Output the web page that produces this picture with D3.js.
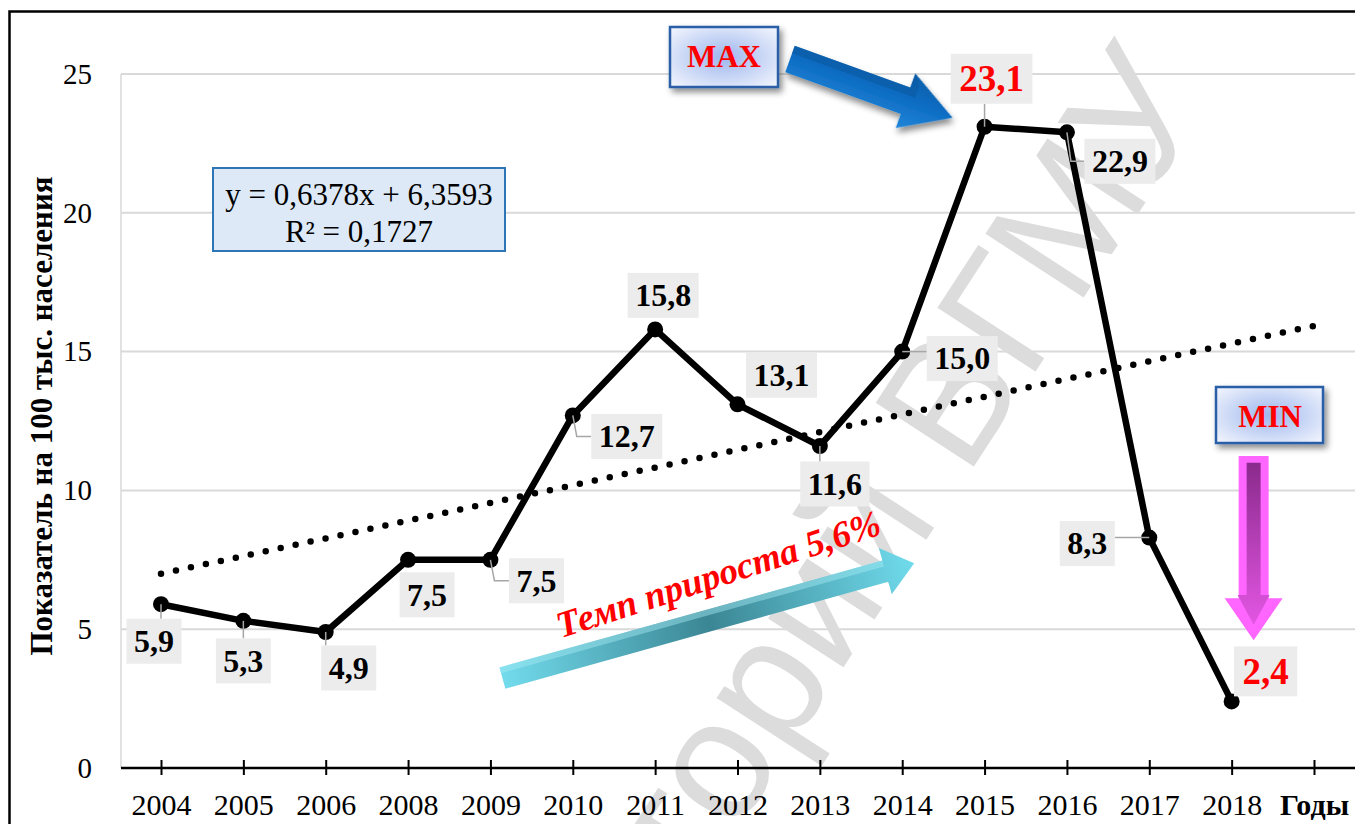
<!DOCTYPE html>
<html><head><meta charset="utf-8">
<script src="https://cdn.jsdelivr.net/npm/d3@7"></script>
<style>
html,body{margin:0;padding:0;background:#fff;overflow:hidden;}
svg{display:block;}
</style></head><body>
<svg id="chart" width="1355" height="824"></svg>
<script>
// ---------------- DATA ----------------
const years = ["2004","2005","2006","2008","2009","2010","2011","2012","2013","2014","2015","2016","2017","2018"];
const values = [5.9, 5.3, 4.9, 7.5, 7.5, 12.7, 15.8, 13.1, 11.6, 15.0, 23.1, 22.9, 8.3, 2.4];
const axisEndLabel = "Годы";
const categories = years.concat([axisEndLabel]);
const yTickValues = [0, 5, 10, 15, 20, 25];
const trendSlope = 0.6378;
const trendIntercept = 6.3593;
const trendR2 = 0.1727;
const equationLines = ["y = 0,6378x + 6,3593", "R² = 0,1727"];
const yAxisTitle = "Показатель на 100 тыс. населения";
const growthText = "Темп прироста 5,6%";
const maxText = "MAX";
const minText = "MIN";
const watermarkText = "Репозиторий ВГМУ";

// ---------------- LAYOUT (label placement relative to points) ----------------
const labelLayout = [
  {dx:-7, dy:37, leader:"line"},
  {dx:0,  dy:40, leader:"line"},
  {dx:23, dy:36, leader:"line"},
  {dx:19, dy:35, leader:"none"},
  {dx:46, dy:21, leader:"elbow"},
  {dx:54, dy:21, leader:"elbow"},
  {dx:8,  dy:-34, leader:"none"},
  {dx:44, dy:-29, leader:"none"},
  {dx:15, dy:38, leader:"line"},
  {dx:60, dy:7,  leader:"line"},
  {dx:7,  dy:-48, leader:"line"},
  {dx:53, dy:29, leader:"elbow"},
  {dx:-62, dy:6, leader:"line"},
  {dx:34, dy:-30, leader:"none"}
];

const W = 1355, H = 824;
const plotLeft = 121, plotRight = 1356;
const serif = "'Liberation Serif','Times New Roman',serif";
const svg = d3.select("#chart");
const defs = svg.append("defs");

const x = d3.scalePoint().domain(categories).range([161, 1314]);
const y = d3.scaleLinear().domain([0, 25]).range([768, 74]);
const fmt = v => d3.format(".1f")(v).replace(".", ",");

// defs
const shadow = defs.append("filter").attr("id","shadow").attr("x","-20%").attr("y","-20%").attr("width","150%").attr("height","160%");
shadow.append("feDropShadow").attr("dx",3).attr("dy",4).attr("stdDeviation",3).attr("flood-color","#000").attr("flood-opacity",0.45);
const rg = defs.append("radialGradient").attr("id","boxGrad").attr("cx","50%").attr("cy","50%").attr("r","65%");
rg.append("stop").attr("offset","0%").attr("stop-color","#9db6ee");
rg.append("stop").attr("offset","100%").attr("stop-color","#eef2fc");
const bg = defs.append("linearGradient").attr("id","blueArrow").attr("x1",0).attr("y1",0).attr("x2",0).attr("y2",1);
bg.append("stop").attr("offset","0%").attr("stop-color","#0d5ea8");
bg.append("stop").attr("offset","45%").attr("stop-color","#0b6cc2");
bg.append("stop").attr("offset","100%").attr("stop-color","#2386d8");
const cg = defs.append("linearGradient").attr("id","cyanArrow").attr("x1",0).attr("y1",0).attr("x2",1).attr("y2",0);
cg.append("stop").attr("offset","0%").attr("stop-color","#72dbec");
cg.append("stop").attr("offset","50%").attr("stop-color","#3b8694");
cg.append("stop").attr("offset","100%").attr("stop-color","#70dbec");
const pg = defs.append("linearGradient").attr("id","pinkInner").attr("x1",0).attr("y1",0).attr("x2",1).attr("y2",0);
pg.append("stop").attr("offset","0%").attr("stop-color","#8a2a8c");
pg.append("stop").attr("offset","100%").attr("stop-color","#e356e3");
const clip = defs.append("clipPath").attr("id","pageClip");
clip.append("rect").attr("x",0).attr("y",0).attr("width",W).attr("height",H);

// frame
svg.append("path").attr("d", `M9.5,${H} L9.5,11.5 L${W},11.5`).attr("fill","none").attr("stroke","#000").attr("stroke-width",2.5);

// gridlines
svg.append("g").selectAll("line").data(yTickValues.filter(d => d > 0)).join("line")
  .attr("x1", plotLeft).attr("x2", plotRight)
  .attr("y1", d => y(d)).attr("y2", d => y(d))
  .attr("stroke","#d9d9d9").attr("stroke-width",2);
svg.append("line").attr("x1",plotLeft).attr("x2",plotLeft).attr("y1",y(25)).attr("y2",y(0))
  .attr("stroke","#d9d9d9").attr("stroke-width",1.5);

// watermark
svg.append("g").attr("clip-path","url(#pageClip)").append("text").text(watermarkText)
  .attr("transform","translate(1212,100) rotate(-57)")
  .attr("text-anchor","end")
  .attr("font-family","'Liberation Sans',Arial,sans-serif")
  .attr("font-size",170)
  .attr("fill","#dcdcdc");

// y axis
const yAxis = svg.append("g").attr("transform",`translate(${plotLeft},0)`)
  .call(d3.axisLeft(y).tickValues(yTickValues).tickSize(0).tickPadding(29).tickFormat(d3.format("d")));
yAxis.select(".domain").remove();
yAxis.selectAll("text").attr("font-family",serif).attr("font-size",29).attr("fill","#000");

// x axis
const xAxis = svg.append("g").attr("transform",`translate(0,${y(0)})`)
  .call(d3.axisBottom(x).tickSize(7).tickPadding(19));
xAxis.select(".domain").remove();
xAxis.selectAll(".tick line").attr("y1",-8).attr("y2",7).attr("stroke","#000").attr("stroke-width",2);
xAxis.selectAll("text").attr("font-family",serif).attr("font-size",30).attr("fill","#000")
  .attr("font-weight", d => d === axisEndLabel ? "bold" : "normal");
svg.append("line").attr("x1",plotLeft).attr("x2",plotRight).attr("y1",y(0)).attr("y2",y(0))
  .attr("stroke","#000").attr("stroke-width",2.5);

// y title
svg.append("text").text(yAxisTitle)
  .attr("transform","translate(52,416) rotate(-90)")
  .attr("text-anchor","middle")
  .attr("font-family",serif).attr("font-weight","bold").attr("font-size",31).attr("fill","#000");

// trend line
const trendPts = categories.map((c, i) => [x(c), y(trendSlope * (i + 1) + trendIntercept)]);
svg.append("path").attr("d", d3.line()(trendPts))
  .attr("fill","none").attr("stroke","#000").attr("stroke-width",6.5)
  .attr("stroke-linecap","round").attr("stroke-dasharray","0 15.3");

// points
const pts = years.map((yr, i) => ({yr, v: values[i], px: x(yr), py: y(values[i]), i}));
const iMax = d3.maxIndex(values), iMin = d3.minIndex(values);

// label boxes (measure first)
const labG = svg.append("g");
const leaderG = svg.insert("g", () => labG.node());
const boxes = pts.map(p => {
  const red = (p.i === iMax || p.i === iMin);
  const L = labelLayout[p.i];
  const cx = p.px + L.dx, cy = p.py + L.dy;
  const fs = red ? 37 : 32;
  const g = labG.append("g");
  const rect = g.append("rect").attr("fill","#ececec");
  const t = g.append("text").text(fmt(p.v)).attr("x",cx).attr("y",cy + fs*0.34)
    .attr("text-anchor","middle").attr("font-family",serif).attr("font-weight","bold")
    .attr("font-size",fs).attr("fill", red ? "#ff0000" : "#000");
  const tw = t.node().getComputedTextLength();
  const bw = tw + (red ? 17 : 15), bh = red ? 50 : 45;
  const r = {x: cx - bw/2, y: cy - bh/2, w: bw, h: bh};
  rect.attr("x",r.x).attr("y",r.y).attr("width",r.w).attr("height",r.h);
  return r;
});

// leaders
pts.forEach(p => {
  const L = labelLayout[p.i], r = boxes[p.i];
  if (L.leader === "none") return;
  let d;
  if (L.leader === "elbow") {
    const midY = r.y + r.h/2;
    const edgeX = p.px < r.x ? r.x : r.x + r.w;
    d = `M${p.px},${p.py} L${p.px + (edgeX > p.px ? 4 : -4)},${midY} L${edgeX},${midY}`;
  } else {
    const nx = Math.max(r.x, Math.min(p.px, r.x + r.w));
    const ny = Math.max(r.y, Math.min(p.py, r.y + r.h));
    d = `M${p.px},${p.py} L${nx},${ny}`;
  }
  leaderG.append("path").attr("d",d).attr("fill","none").attr("stroke","#a6a6a6").attr("stroke-width",1.5);
});

// main line + markers (drawn under labels)
const lineG = svg.insert("g", () => leaderG.node());
lineG.append("path").attr("d", d3.line().x(d => d.px).y(d => d.py)(pts))
  .attr("fill","none").attr("stroke","#000").attr("stroke-width",6.5).attr("stroke-linejoin","round");
lineG.selectAll("circle").data(pts).join("circle")
  .attr("cx", d => d.px).attr("cy", d => d.py).attr("r", 8).attr("fill","#000");

// equation box
const eqX = 213, eqY = 168, eqW = 292, eqH = 83;
svg.append("rect").attr("x",eqX).attr("y",eqY).attr("width",eqW).attr("height",eqH)
  .attr("fill","#dde9f6").attr("stroke","#2e75b6").attr("stroke-width",2);
equationLines.forEach((s, k) => {
  svg.append("text").text(s).attr("x", eqX + eqW/2).attr("y", 205 + k*37)
    .attr("text-anchor","middle").attr("font-family",serif).attr("font-size",31).attr("fill","#000");
});

// arrow helper (local coords along +x)
function arrowPoly(Lh, headLen, sw, hw) {
  return [[0,-sw],[Lh-headLen,-sw],[Lh-headLen,-hw],[Lh,0],[Lh-headLen,hw],[Lh-headLen,sw],[0,sw]];
}
function drawArrow(x0,y0,x1,y1,headLen,sw,hw,fill,extra) {
  const Lh = Math.hypot(x1-x0, y1-y0), ang = Math.atan2(y1-y0, x1-x0) * 180 / Math.PI;
  const g = svg.append("g").attr("transform",`translate(${x0},${y0}) rotate(${ang})`);
  g.append("polygon").attr("points", arrowPoly(Lh,headLen,sw,hw).map(p => p.join(",")).join(" "))
    .attr("fill",fill).attr("filter", extra && extra.shadow ? "url(#shadow)" : null);
  return {g, Lh};
}

// MAX box + arrow
const pMax = pts[iMax];
svg.append("rect").attr("x",670).attr("y",27).attr("width",108).attr("height",60)
  .attr("fill","url(#boxGrad)").attr("stroke","#2a5ea8").attr("stroke-width",2.5).attr("filter","url(#shadow)");
svg.append("text").text(maxText).attr("x",724).attr("y",67).attr("text-anchor","middle")
  .attr("font-family",serif).attr("font-weight","bold").attr("font-size",31).attr("fill","#ff0000");
const ba = drawArrow(790, 59, pMax.px - 32, pMax.py - 9, 50, 14, 29, "url(#blueArrow)", {shadow:true});
ba.g.append("polygon").attr("points", `0,-14 ${ba.Lh-50},-14 ${ba.Lh-50},-29 ${ba.Lh-42},-18 ${ba.Lh-42},-6 0,-6`)
  .attr("fill","#0a5aa3").attr("opacity",0.6);

// MIN box + pink arrow
const pMin = pts[iMin];
svg.append("rect").attr("x",1216).attr("y",387).attr("width",107).attr("height",56)
  .attr("fill","url(#boxGrad)").attr("stroke","#2a5ea8").attr("stroke-width",2.5).attr("filter","url(#shadow)");
svg.append("text").text(minText).attr("x",1270).attr("y",427).attr("text-anchor","middle")
  .attr("font-family",serif).attr("font-weight","bold").attr("font-size",31).attr("fill","#ff0000");
const pinkX = pMin.px + 22;
drawArrow(pinkX, y(11.24), pinkX, y(4.6), 42, 15, 29, "#ff66ff");
drawArrow(pinkX, y(11.0), pinkX, y(5.15), 30, 7, 16, "url(#pinkInner)");

// cyan growth arrow + text
const ca = drawArrow(x("2009") + 12, y(3.24), x("2014") + 12, y(7.38), 30, 11, 24, "url(#cyanArrow)");
ca.g.append("polygon").attr("points", `0,-11 ${ca.Lh-30},-11 ${ca.Lh-30},-5 0,-5`).attr("fill","#a6ecf5").attr("opacity",0.45);
svg.append("text").text(growthText)
  .attr("transform","translate(722,586) rotate(-18)")
  .attr("text-anchor","middle")
  .attr("font-family",serif).attr("font-weight","bold").attr("font-style","italic")
  .attr("font-size",37).attr("fill","#ff0000");
</script>
</body></html>
